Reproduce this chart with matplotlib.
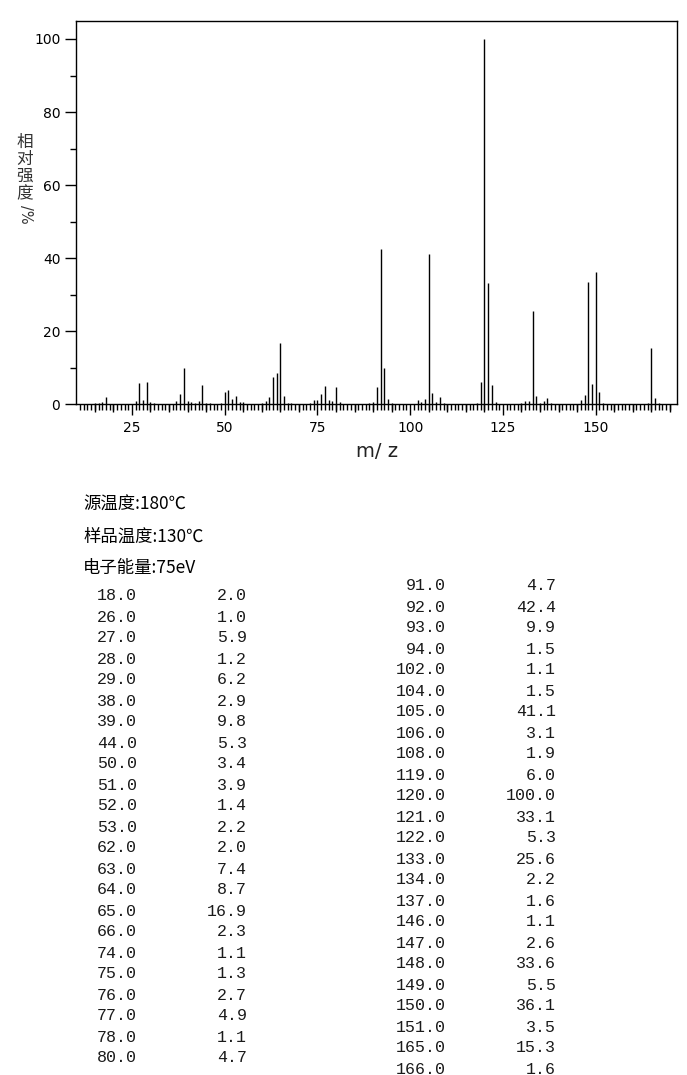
import matplotlib
matplotlib.use("Agg")
import matplotlib.pyplot as plt
import numpy as np

# ---- data: listed peaks (m/z, relative intensity %) ----
mz_table = [18, 26, 27, 28, 29, 38, 39, 44, 50, 51, 52, 53, 62, 63, 64, 65, 66,
            74, 75, 76, 77, 78, 80,
            91, 92, 93, 94, 102, 104, 105, 106, 108, 119, 120, 121, 122, 133, 134,
            137, 146, 147, 148, 149, 150, 151, 165, 166]
int_table = [2.0, 1.0, 5.9, 1.2, 6.2, 2.9, 9.8, 5.3, 3.4, 3.9, 1.4, 2.2, 2.0, 7.4, 8.7, 16.9, 2.3,
             1.1, 1.3, 2.7, 4.9, 1.1, 4.7,
             4.7, 42.4, 9.9, 1.5, 1.1, 1.5, 41.1, 3.1, 1.9, 6.0, 100.0, 33.1, 5.3, 25.6, 2.2,
             1.6, 1.1, 2.6, 33.6, 5.5, 36.1, 3.5, 15.3, 1.6]

# small peaks (< 1 %) read off the spectrum, not listed in the table
mz_minor = [15, 16, 17, 30, 31, 37, 40, 41, 42, 43, 45, 46, 49, 54, 55, 60, 61, 67, 68,
            73, 79, 81, 89, 90, 95, 103, 107, 109, 118, 123, 130, 131, 132, 135, 136,
            138, 152, 164, 167]
int_minor = [0.3, 0.4, 0.5, 0.5, 0.3, 0.8, 0.8, 0.5, 0.3, 0.8, 0.3, 0.3, 0.3, 0.6, 0.6, 0.3, 0.8, 0.3, 0.3,
             0.3, 0.8, 0.5, 0.3, 0.5, 0.3, 0.5, 0.5, 0.3, 0.3, 0.5, 0.3, 0.8, 0.8, 0.3, 0.8,
             0.3, 0.3, 0.3, 0.3]

header_lines = ["源温度:180℃", "样品温度:130℃", "电子能量:75eV"]
y_ticks = [0, 20, 40, 60, 80, 100]
x_ticks = [25, 50, 75, 100, 125, 150]

W, H = 687, 1075
fig = plt.figure(figsize=(W / 100, H / 100), dpi=100)

def fx(px):
    return px / W

def fy(py):
    return 1 - py / H

ax = fig.add_axes([fx(76.3), fy(404.3), fx(677.3) - fx(76.3), fy(20.7) - fy(404.3)])

all_mz = np.array(mz_table + mz_minor, dtype=float)
all_int = np.array(int_table + int_minor, dtype=float)
ax.vlines(all_mz, 0, all_int, colors="black", linewidth=1.0)

ax.set_xlim(10, 172)
ax.set_ylim(0, 105)

for s in ax.spines.values():
    s.set_linewidth(1.0)
    s.set_color("black")

ax.set_xticks(x_ticks)
ax.set_xticks(np.arange(11, 171, 1), minor=True)
ax.set_yticks(y_ticks)
ax.set_yticks([10, 30, 50, 70, 90], minor=True)
ax.tick_params(axis="both", which="major", direction="out", length=8, width=1.0,
               labelsize=10, colors="black")
ax.tick_params(axis="x", which="minor", direction="out", length=4, width=1.0)
ax.tick_params(axis="y", which="minor", direction="out", length=4, width=1.0)
ax.tick_params(axis="x", which="major", pad=4)

# medium ticks every 5
sec = ax.secondary_xaxis("bottom")
sec.set_xticks([v for v in range(15, 171, 5) if v % 25 != 0])
sec.tick_params(direction="out", length=5.5, width=1.0, labelbottom=False)
sec.spines["bottom"].set_visible(False)

ax.set_xlabel("m/ z", fontsize=14, labelpad=5, family="DejaVu Sans", color="#222222")

# vertical y-label: CJK stacked upright, "/%" rotated
cjk = ["Noto Sans CJK SC", "DejaVu Sans"]
for i, ch in enumerate("相对强度"):
    fig.text(fx(25), fy(142 + i * 17.3), ch, ha="center", va="center", fontsize=12,
             family=cjk, color="#333333")
fig.text(fx(25), fy(214), "/%", ha="center", va="center", fontsize=10.5,
         rotation=-90, family="DejaVu Sans", color="#333333")

# header lines
for i, line in enumerate(header_lines):
    fig.text(fx(83), fy(505 + i * 31.5), line, ha="left", va="center", fontsize=12.5,
             family=cjk, color="black")

# table
left_n = 23
mono = "Liberation Mono"
for i in range(len(mz_table)):
    if i < left_n:
        y = 596 + i * 21.0
        xm, xi = 137, 247
    else:
        y = 586 + (i - left_n) * 21.0
        xm, xi = 446, 556
    fig.text(fx(xm), fy(y), f"{mz_table[i]:.1f}", ha="right", va="center",
             fontsize=12, family=mono, color="#1a1a1a")
    fig.text(fx(xi), fy(y), f"{int_table[i]:.1f}", ha="right", va="center",
             fontsize=12, family=mono, color="#1a1a1a")

fig.savefig("out.png", dpi=100)
